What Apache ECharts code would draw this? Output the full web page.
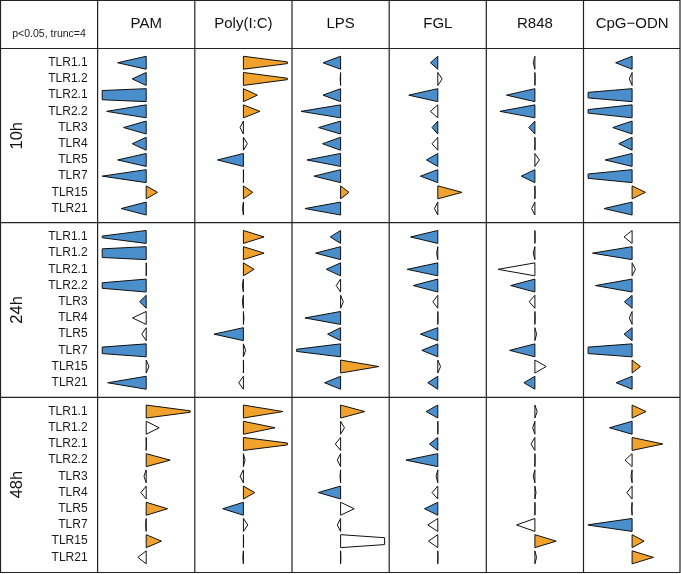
<!DOCTYPE html>
<html>
<head>
<meta charset="utf-8">
<script src="https://cdn.jsdelivr.net/npm/echarts@6/dist/echarts.min.js"></script>
<style>html,body{margin:0;padding:0;background:#fff}#c{width:681px;height:574px}</style>
</head>
<body>
<div id="c"></div>
<script>
// ---- data ----
const tlrs = ['TLR1.1','TLR1.2','TLR2.1','TLR2.2','TLR3','TLR4','TLR5','TLR7','TLR15','TLR21'];
const treatments = ['PAM','Poly(I:C)','LPS','FGL','R848','CpG\u2212ODN'];
const times = ['10h','24h','48h'];
const truncLimit = 4;

// log fold-changes; sig: 1 = p<0.05
const fc10h_PAM  = [-2.6,-1.27,-14,-3.6,-2.06,-1.27,-2.6,-4.0,1.03,-2.27];
const sig10h_PAM = [1,1,1,1,1,1,1,1,1,1];
const fc10h_Poly  = [4.6,4.5,1.27,1.5,-0.3,0.36,-2.36,0.02,0.85,-0.08];
const sig10h_Poly = [1,1,1,1,0,0,1,0,1,0];
const fc10h_LPS  = [-1.6,-0.04,-1.6,-3.6,-2.0,-1.64,-3.06,-2.42,0.76,-3.24];
const sig10h_LPS = [1,0,1,1,1,1,1,1,1,1];
const fc10h_FGL  = [-0.67,0.4,-2.64,-0.67,-0.52,-0.52,-1.03,-1.58,2.2,-0.3];
const sig10h_FGL = [1,0,1,0,1,0,1,1,1,0];
const fc10h_R848  = [-0.15,0.02,-2.58,-3.18,-0.55,0.02,0.4,-1.24,0.02,-0.3];
const sig10h_R848 = [0,0,1,1,1,0,0,1,0,0];
const fc10h_CpG  = [-1.5,-0.25,-7,-5.5,-1.76,-1.21,-2.45,-6,1.21,-2.55];
const sig10h_CpG = [1,0,1,1,1,1,1,1,1,1];

const fc24h_PAM  = [-4.6,-12,0.02,-7,-0.6,-1.24,-0.4,-8,0.25,-3.5];
const sig24h_PAM = [1,1,0,1,1,0,0,1,0,1];
const fc24h_Poly  = [1.88,1.88,0.97,-0.1,-0.1,0.05,-2.67,0.2,0.02,-0.42];
const sig24h_Poly = [1,1,1,0,0,0,1,0,0,0];
const fc24h_LPS  = [-0.94,-2.27,-1.3,-0.4,0.25,-3.24,-1.18,-4.8,3.48,-1.45];
const sig24h_LPS = [1,1,1,0,0,1,1,1,1,1];
const fc24h_FGL  = [-2.48,-0.1,-2.79,-2.24,-0.45,0.02,-1.58,-1.45,0.25,-0.91];
const sig24h_FGL = [1,0,1,1,0,0,1,1,0,1];
const fc24h_R848  = [0.02,-0.15,-3.35,-2.2,-0.52,0.02,0.15,-2.3,1.03,-1.0];
const sig24h_R848 = [0,0,0,1,0,0,0,1,0,1];
const fc24h_CpG  = [-0.73,-3.6,0.3,-3.33,-0.7,-0.25,-0.73,-8,0.76,-1.45];
const sig24h_CpG = [0,1,0,1,1,0,1,1,1,1];

const fc48h_PAM  = [4.5,1.18,0.02,2.18,-0.2,-0.48,1.94,-0.05,1.39,-0.76];
const sig48h_PAM = [1,0,0,1,0,0,1,0,1,0];
const fc48h_Poly  = [3.6,2.88,4.7,0.15,-0.3,1.03,-1.88,0.4,0.02,-0.05];
const sig48h_Poly = [1,1,1,0,0,1,1,0,0,0];
const fc48h_LPS  = [2.2,0.35,-0.48,-0.3,-0.05,-2.03,1.24,-0.3,8.5,0.02];
const sig48h_LPS = [1,0,0,0,0,1,0,0,0,0];
const fc48h_FGL  = [-1.06,0.02,-0.76,-2.9,-0.15,-0.52,-1.21,-0.91,-0.85,0.02];
const sig48h_FGL = [1,0,1,1,0,0,1,0,0,0];
const fc48h_R848  = [0.2,-0.2,-0.35,0.02,-0.15,0.1,0.02,-1.67,1.94,0.15];
const sig48h_R848 = [0,0,0,0,0,0,0,0,1,0];
const fc48h_CpG  = [1.27,-2.06,2.79,-0.64,-0.1,-0.48,-0.05,-4.1,1.09,1.94];
const sig48h_CpG = [1,1,1,0,0,0,0,1,1,1];

const fcTable = [
  [fc10h_PAM, fc10h_Poly, fc10h_LPS, fc10h_FGL, fc10h_R848, fc10h_CpG],
  [fc24h_PAM, fc24h_Poly, fc24h_LPS, fc24h_FGL, fc24h_R848, fc24h_CpG],
  [fc48h_PAM, fc48h_Poly, fc48h_LPS, fc48h_FGL, fc48h_R848, fc48h_CpG]
];
const sigTable = [
  [sig10h_PAM, sig10h_Poly, sig10h_LPS, sig10h_FGL, sig10h_R848, sig10h_CpG],
  [sig24h_PAM, sig24h_Poly, sig24h_LPS, sig24h_FGL, sig24h_R848, sig24h_CpG],
  [sig48h_PAM, sig48h_Poly, sig48h_LPS, sig48h_FGL, sig48h_R848, sig48h_CpG]
];

// ---- layout ----
const colX = [97.6, 194.8, 292, 389.2, 486.3, 583.5];
const colW = 97.2;
const rowY = [48.5, 222.7, 397.3];
const rowH = 174.5;
const pxPerUnit = 11;
const halfRange = colW / 2 / pxPerUnit;
const BLUE = '#4a8fcc', ORANGE = '#f0a22c', FONT = '"Liberation Sans", Arial, sans-serif';

const grids = [], xAxes = [], yAxes = [], series = [];
let gi = 0;
for (let r = 0; r < 3; r++) {
  for (let c = 0; c < 6; c++) {
    grids.push({left: colX[c], width: colW, top: rowY[r] + 6.15, height: 162});
    xAxes.push({gridIndex: gi, type: 'value', min: -halfRange, max: halfRange, show: false});
    yAxes.push({gridIndex: gi, type: 'category', data: tlrs, inverse: true,
      show: c === 0, axisLine: {show: false}, axisTick: {show: false}, splitLine: {show: false},
      axisLabel: {show: c === 0, margin: 10, fontSize: 12, color: '#1a1a1a', fontFamily: FONT}});
    const vals = fcTable[r][c], sigs = sigTable[r][c];
    series.push({
      type: 'custom', xAxisIndex: gi, yAxisIndex: gi,
      data: vals.map((v, i) => [v, i, sigs[i]]),
      renderItem: function (params, api) {
        const v = api.value(0), idx = api.value(1), s = api.value(2);
        const base = api.coord([0, idx]);
        const h = api.size([0, 1])[1] * 0.8;
        const av = Math.abs(v);
        const tv = Math.sign(v) * Math.min(av, truncLimit);
        const tip = api.coord([tv, idx]);
        const hh = av > truncLimit ? (h / 2) * (1 - truncLimit / av) : 0;
        const fill = s ? (v < 0 ? BLUE : ORANGE) : '#ffffff';
        return {
          type: 'polygon',
          shape: {points: [[base[0], base[1] - h / 2], [base[0], base[1] + h / 2],
                           [tip[0], base[1] + hh], [tip[0], base[1] - hh]]},
          style: {fill: fill, stroke: '#111', lineWidth: 1}
        };
      }
    });
    gi++;
  }
}

const graphics = [];
// borders
graphics.push({type: 'rect', shape: {x: 0.5, y: 0.5, width: 679.5, height: 572}, style: {fill: 'none', stroke: '#222', lineWidth: 1.2}, z: 100});
rowY.forEach(y => graphics.push({type: 'line', shape: {x1: 0, y1: y, x2: 680, y2: y}, style: {stroke: '#222', lineWidth: 1.2}, z: 100}));
colX.forEach(x => graphics.push({type: 'line', shape: {x1: x, y1: 0, x2: x, y2: 573}, style: {stroke: '#222', lineWidth: 1.2}, z: 100}));
// headers
treatments.forEach((t, c) => graphics.push({type: 'text', x: colX[c] + colW / 2, y: 24,
  style: {text: t, fill: '#111', font: '15px ' + FONT, textAlign: 'center', textVerticalAlign: 'middle'}}));
graphics.push({type: 'text', x: 49, y: 34.5,
  style: {text: 'p<0.05, trunc=4', fill: '#222', font: '10.5px ' + FONT, textAlign: 'center', textVerticalAlign: 'middle'}});
times.forEach((t, r) => graphics.push({type: 'text', x: 17, y: rowY[r] + rowH / 2, rotation: Math.PI / 2,
  style: {text: t, fill: '#111', font: '16.5px ' + FONT, textAlign: 'center', textVerticalAlign: 'middle'}}));

const chart = echarts.init(document.getElementById('c'), null, {renderer: 'canvas'});
chart.setOption({animation: false, backgroundColor: '#fff', grid: grids, xAxis: xAxes, yAxis: yAxes, series: series, graphic: graphics});
</script>
</body>
</html>
